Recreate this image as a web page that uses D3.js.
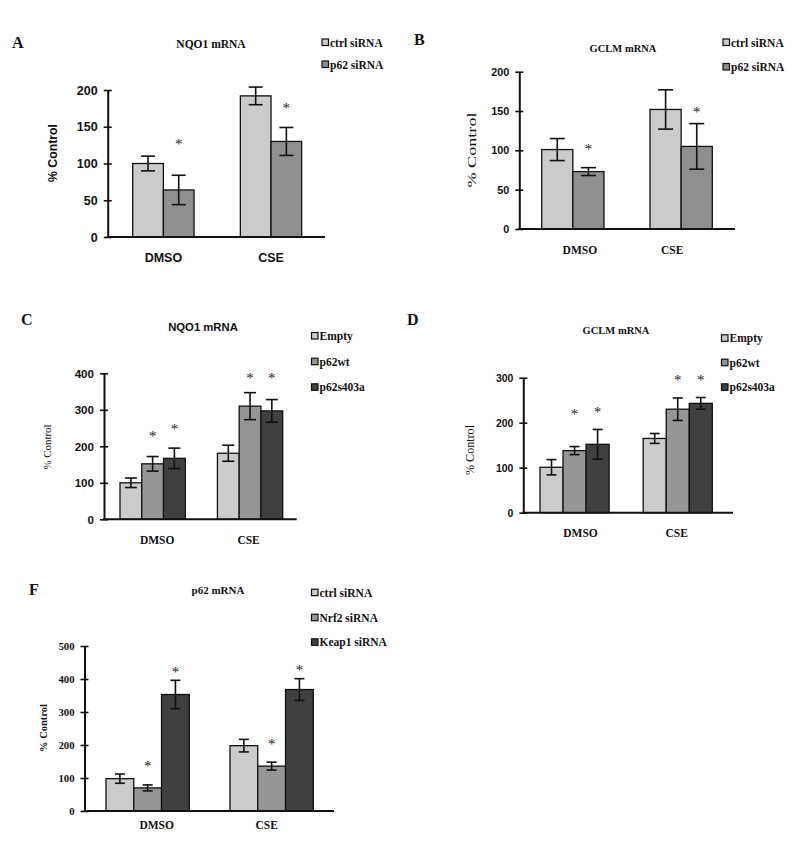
<!DOCTYPE html>
<html><head><meta charset="utf-8">
<script src="https://cdn.jsdelivr.net/npm/d3@7/dist/d3.min.js"></script>
<style>body{margin:0;background:#fff}svg{display:block}text{-webkit-font-smoothing:antialiased}</style>
</head><body>
<svg id="c" width="800" height="856"></svg>
<script>
const groups = ["DMSO", "CSE"];

// Panel A: NQO1 mRNA (siRNA)
const aSeries = ["ctrl siRNA", "p62 siRNA"];
const aMean = [[100, 64], [192, 130]];
const aErr = [[10, 20], [12, 19]];
const aStar = [[null, 130], [null, 180]];
const aTicks = [0, 50, 100, 150, 200];

// Panel B: GCLM mRNA (siRNA)
const bSeries = ["ctrl siRNA", "p62 siRNA"];
const bMean = [[101, 73], [152, 105]];
const bErr = [[14, 5], [25, 29]];
const bStar = [[null, 105], [null, 153]];
const bTicks = [0, 50, 100, 150, 200];

// Panel C: NQO1 mRNA (overexpression)
const cSeries = ["Empty", "p62wt", "p62s403a"];
const cMean = [[100, 152, 167], [181, 310, 297]];
const cErr = [[13, 20, 28], [22, 37, 31]];
const cStar = [[null, 237, 256], [null, 395, 395]];
const cTicks = [0, 100, 200, 300, 400];

// Panel D: GCLM mRNA (overexpression)
const dSeries = ["Empty", "p62wt", "p62s403a"];
const dMean = [[101, 138, 152], [165, 230, 243]];
const dErr = [[17, 9, 33], [11, 25, 13]];
const dStar = [[null, 226, 230], [null, 301, 301]];
const dTicks = [0, 100, 200, 300];

// Panel F: p62 mRNA
const fSeries = ["ctrl siRNA", "Nrf2 siRNA", "Keap1 siRNA"];
const fMean = [[98, 70, 353], [198, 136, 368]];
const fErr = [[14, 9, 43], [19, 12, 33]];
const fStar = [[null, 146, 430], [null, 212, 437]];
const fTicks = [0, 100, 200, 300, 400, 500];

const colors2 = ["#cbcbcb", "#8f8f8f"];
const colors3 = ["#cbcbcb", "#969696", "#404040"];

const SANS = "'Liberation Sans', Arial, sans-serif";
const SERIF = "'Liberation Serif', 'Times New Roman', serif";

const panels = [
  {letter:"A", lx:12, ly:48, title:"NQO1 mRNA", tx:211, ty:47.5, tFont:SERIF, tSize:11.5,
   series:aSeries, mean:aMean, err:aErr, star:aStar, ticks:aTicks, colors:colors2,
   legX:322, legY:[42.5, 64.5],
   axX:107.7, y0:237, yTop:90, yMax:200, xEnd:325, band:[132.7, 301.7], pi:0.43,
   tickFont:SANS, tickSize:12.5, ylX:53, ylY:153, ylFont:SANS, ylSize:12.3, ylW:"bold", ylLen:null,
   xlY:262, xlFont:SANS, xlSize:12.5, xlDx:[0, 0], cap:14},
  {letter:"B", lx:414, ly:45, title:"GCLM mRNA", tx:623, ty:51.5, tFont:SERIF, tSize:10.5,
   series:bSeries, mean:bMean, err:bErr, star:bStar, ticks:bTicks, colors:colors2,
   legX:723, legY:[42.5, 67],
   axX:519.3, y0:229, yTop:71.7, yMax:200, xEnd:735, band:[541.7, 712.3], pi:0.425,
   tickFont:SANS, tickSize:10.8, ylX:471, ylY:150, ylFont:SERIF, ylSize:13.5, ylW:"normal", ylLen:75,
   xlY:254, xlFont:SERIF, xlSize:11.5, xlDx:[7, -9], cap:15},
  {letter:"C", lx:21, ly:325, title:"NQO1 mRNA", tx:203, ty:331, tFont:SANS, tSize:11.3,
   series:cSeries, mean:cMean, err:cErr, star:cStar, ticks:cTicks, colors:colors3,
   legX:311.5, legY:[336, 361.7, 387.3],
   axX:104, y0:519.3, yTop:373.3, yMax:400, xEnd:296.7, band:[120, 282.7], pi:0.33,
   tickFont:SANS, tickSize:11.6, ylX:47.5, ylY:447, ylFont:SERIF, ylSize:11, ylW:"normal", ylLen:45,
   xlY:544, xlFont:SERIF, xlSize:11.5, xlDx:[4.5, -1.5], cap:12},
  {letter:"D", lx:407, ly:325, title:"GCLM mRNA", tx:616, ty:334, tFont:SERIF, tSize:10.5,
   series:dSeries, mean:dMean, err:dErr, star:dStar, ticks:dTicks, colors:colors3,
   legX:721.5, legY:[338.3, 362.7, 387.3],
   axX:523.3, y0:512.7, yTop:377.7, yMax:300, xEnd:733, band:[540, 712.3], pi:0.33,
   tickFont:SANS, tickSize:10.4, ylX:470, ylY:450, ylFont:SERIF, ylSize:12, ylW:"normal", ylLen:50,
   xlY:537, xlFont:SERIF, xlSize:11.5, xlDx:[6, -1], cap:10},
  {letter:"F", lx:29, ly:595, title:"p62 mRNA", tx:218, ty:594, tFont:SERIF, tSize:11,
   series:fSeries, mean:fMean, err:fErr, star:fStar, ticks:fTicks, colors:colors3,
   legX:311.5, legY:[592.7, 617.7, 642.3],
   axX:84.5, y0:811, yTop:646, yMax:500, xEnd:334, band:[106, 313.3], pi:0.328,
   tickFont:SERIF, tickSize:10.7, ylX:42.7, ylY:728, ylFont:SERIF, ylSize:11, ylW:"bold", ylLen:48,
   xlY:829, xlFont:SERIF, xlSize:11.5, xlDx:[9, -5], cap:10}
];

const svg = d3.select("#c");

panels.forEach(p => {
  const g = svg.append("g");
  g.append("text").attr("x", p.lx).attr("y", p.ly).text(p.letter)
    .attr("font-family", SERIF).attr("font-weight", "bold").attr("font-size", 16).attr("fill", "#111");
  g.append("text").attr("x", p.tx).attr("y", p.ty).attr("text-anchor", "middle").text(p.title)
    .attr("font-family", p.tFont).attr("font-weight", "bold").attr("font-size", p.tSize).attr("fill", "#111");

  const y = d3.scaleLinear().domain([0, p.yMax]).range([p.y0, p.yTop]);
  const x0 = d3.scaleBand().domain(groups).range(p.band).paddingInner(p.pi).paddingOuter(0);
  const x1 = d3.scaleBand().domain(p.series).range([0, x0.bandwidth()]).padding(0);
  const color = d3.scaleOrdinal().domain(p.series).range(p.colors);
  const cx = d => x0(d.grp) + x1(d.s) + x1.bandwidth() / 2;

  const rows = [];
  groups.forEach((grp, gi) => p.series.forEach((s, si) => rows.push({grp, s, m: p.mean[gi][si], e: p.err[gi][si], st: p.star[gi][si]})));

  g.selectAll("rect.bar").data(rows).join("rect").attr("class", "bar")
    .attr("x", d => x0(d.grp) + x1(d.s)).attr("width", x1.bandwidth())
    .attr("y", d => y(d.m)).attr("height", d => y(0) - y(d.m))
    .attr("fill", d => color(d.s)).attr("stroke", "#111").attr("stroke-width", 1.3);

  const eb = g.selectAll("g.eb").data(rows).join("g").attr("class", "eb")
    .attr("stroke", "#111").attr("stroke-width", 1.6);
  eb.append("line").attr("x1", cx).attr("x2", cx)
    .attr("y1", d => y(d.m + d.e)).attr("y2", d => y(d.m - d.e));
  eb.append("line").attr("x1", d => cx(d) - p.cap/2).attr("x2", d => cx(d) + p.cap/2)
    .attr("y1", d => y(d.m + d.e)).attr("y2", d => y(d.m + d.e));
  eb.append("line").attr("x1", d => cx(d) - p.cap/2).attr("x2", d => cx(d) + p.cap/2)
    .attr("y1", d => y(d.m - d.e)).attr("y2", d => y(d.m - d.e));

  g.selectAll("text.star").data(rows.filter(d => d.st != null)).join("text").attr("class", "star")
    .attr("x", cx).attr("y", d => y(d.st) + 8)
    .attr("text-anchor", "middle").text("*")
    .attr("font-family", SERIF).attr("font-size", 15).attr("fill", "#222").attr("opacity", 0.99);

  const ax = g.append("g").attr("transform", `translate(${p.axX},0)`)
    .call(d3.axisLeft(y).tickValues(p.ticks).tickFormat(d3.format("d")).tickSizeInner(4).tickSizeOuter(0).tickPadding(6));
  ax.select(".domain").attr("stroke", "#111").attr("stroke-width", 2);
  ax.selectAll(".tick line").attr("x1", 4).attr("stroke", "#111").attr("stroke-width", 1.6);
  ax.selectAll(".tick text").attr("font-family", p.tickFont).attr("font-weight", "bold")
    .attr("font-size", p.tickSize).attr("fill", "#111");

  g.append("line").attr("x1", p.axX - 1).attr("x2", p.xEnd).attr("y1", y(0)).attr("y2", y(0))
    .attr("stroke", "#111").attr("stroke-width", 2);

  g.selectAll("text.xl").data(groups).join("text").attr("class", "xl")
    .attr("x", (d, i) => x0(d) + x0.bandwidth()/2 + p.xlDx[i]).attr("y", p.xlY)
    .attr("text-anchor", "middle").text(d => d)
    .attr("font-family", p.xlFont).attr("font-weight", "bold").attr("font-size", p.xlSize).attr("fill", "#111");

  const yl = g.append("text").attr("transform", `translate(${p.ylX},${p.ylY}) rotate(-90)`)
    .attr("text-anchor", "middle").attr("dy", "0.35em").text("% Control")
    .attr("font-family", p.ylFont).attr("font-weight", p.ylW).attr("font-size", p.ylSize).attr("fill", "#111");
  if (p.ylLen) yl.attr("textLength", p.ylLen).attr("lengthAdjust", "spacingAndGlyphs");

  const lg = g.selectAll("g.leg").data(p.series).join("g").attr("class", "leg")
    .attr("transform", (d, i) => `translate(${p.legX},${p.legY[i]})`);
  lg.append("rect").attr("x", 0).attr("y", -3.5).attr("width", 6.5).attr("height", 6.5)
    .attr("fill", d => color(d)).attr("stroke", "#111").attr("stroke-width", 1.2);
  lg.append("text").attr("x", 8).attr("y", 4).text(d => d)
    .attr("font-family", SERIF).attr("font-weight", "bold").attr("font-size", 11.5).attr("fill", "#111");
});
</script>
</body></html>
